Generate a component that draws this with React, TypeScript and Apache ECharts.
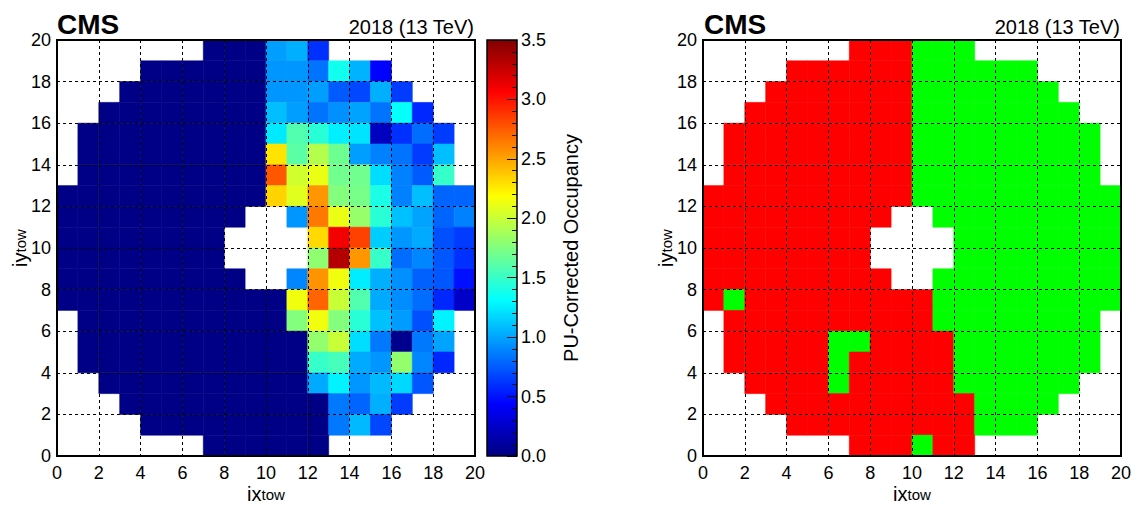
import React, { useEffect, useRef } from "react";
import * as echarts from "echarts";

const FONT = '"Liberation Sans", Arial, Helvetica, sans-serif';

const _ = null;
const D = 0.02; // nearly empty (navy) towers
const R = 0; // red
const G = 1; // green

// PU-corrected occupancy; rows from iy = 19 (top) down to iy = 0, columns ix = 0..19
const occupancyRows: (number | null)[][] = [
  [_, _, _, _, _, _, _, D, D, D, 0.98, 1.04, 0.6, _, _, _, _, _, _, _],
  [_, _, _, _, D, D, D, D, D, D, 0.95, 0.95, 0.83, 1.37, 1.05, 0.44, _, _, _, _],
  [_, _, _, D, D, D, D, D, D, D, 0.95, 0.95, 0.98, 0.75, 0.68, 1.04, 0.64, _, _, _],
  [_, _, D, D, D, D, D, D, D, D, 1.09, 0.98, 0.83, 0.93, 1.0, 0.83, 1.33, 0.57, _, _],
  [_, D, D, D, D, D, D, D, D, D, 1.24, 1.59, 1.45, 1.26, 1.22, 0.22, 0.6, 0.81, 0.64, _],
  [_, D, D, D, D, D, D, D, D, D, 2.28, 1.62, 1.93, 1.69, 0.98, 0.88, 0.83, 0.64, 1.09, _],
  [_, D, D, D, D, D, D, D, D, D, 2.77, 2.03, 2.12, 1.7, 1.7, 1.2, 0.88, 0.75, 1.5, _],
  [D, D, D, D, D, D, D, D, D, D, 2.34, 2.08, 2.55, 1.76, 1.72, 1.4, 0.88, 1.09, 0.78, 0.78],
  [D, D, D, D, D, D, D, D, D, _, _, 0.95, 2.65, 2.12, 1.83, 1.45, 1.1, 1.0, 0.78, 0.88],
  [D, D, D, D, D, D, D, D, _, _, _, _, 2.32, 3.1, 2.84, 1.14, 0.95, 1.02, 0.71, 0.64],
  [D, D, D, D, D, D, D, D, _, _, _, _, 1.8, 3.32, 2.55, 1.5, 0.81, 0.9, 0.73, 0.6],
  [D, D, D, D, D, D, D, D, D, _, _, 0.9, 2.56, 2.14, 1.25, 1.04, 0.93, 0.77, 0.73, 0.49],
  [D, D, D, D, D, D, D, D, D, D, D, 2.14, 2.72, 2.0, 1.59, 1.02, 0.92, 0.81, 0.57, 0.25],
  [_, D, D, D, D, D, D, D, D, D, D, 1.76, 2.14, 1.76, 1.45, 1.1, 0.97, 0.71, 1.27, _],
  [_, D, D, D, D, D, D, D, D, D, D, D, 1.82, 2.0, 1.2, 0.85, 0.05, 0.85, 1.0, _],
  [_, D, D, D, D, D, D, D, D, D, D, D, 1.5, 1.55, 1.02, 0.95, 1.82, 0.9, 0.57, _],
  [_, _, D, D, D, D, D, D, D, D, D, D, 1.02, 1.27, 0.95, 1.07, 1.18, 0.73, _, _],
  [_, _, _, D, D, D, D, D, D, D, D, D, D, 0.85, 0.78, 1.04, 0.64, _, _, _],
  [_, _, _, _, D, D, D, D, D, D, D, D, D, 0.85, 1.07, 0.68, _, _, _, _],
  [_, _, _, _, _, _, _, D, D, D, D, D, D, _, _, _, _, _, _, _],
];

// Partition map (0 = red, 1 = green); same row order
const partitionRows: (number | null)[][] = [
  [_, _, _, _, _, _, _, R, R, R, G, G, G, _, _, _, _, _, _, _],
  [_, _, _, _, R, R, R, R, R, R, G, G, G, G, G, G, _, _, _, _],
  [_, _, _, R, R, R, R, R, R, R, G, G, G, G, G, G, G, _, _, _],
  [_, _, R, R, R, R, R, R, R, R, G, G, G, G, G, G, G, G, _, _],
  [_, R, R, R, R, R, R, R, R, R, G, G, G, G, G, G, G, G, G, _],
  [_, R, R, R, R, R, R, R, R, R, G, G, G, G, G, G, G, G, G, _],
  [_, R, R, R, R, R, R, R, R, R, G, G, G, G, G, G, G, G, G, _],
  [R, R, R, R, R, R, R, R, R, R, G, G, G, G, G, G, G, G, G, G],
  [R, R, R, R, R, R, R, R, R, _, _, G, G, G, G, G, G, G, G, G],
  [R, R, R, R, R, R, R, R, _, _, _, _, G, G, G, G, G, G, G, G],
  [R, R, R, R, R, R, R, R, _, _, _, _, G, G, G, G, G, G, G, G],
  [R, R, R, R, R, R, R, R, R, _, _, G, G, G, G, G, G, G, G, G],
  [R, G, R, R, R, R, R, R, R, R, R, G, G, G, G, G, G, G, G, G],
  [_, R, R, R, R, R, R, R, R, R, R, G, G, G, G, G, G, G, G, _],
  [_, R, R, R, R, R, G, G, R, R, R, R, G, G, G, G, G, G, G, _],
  [_, R, R, R, R, R, G, R, R, R, R, R, G, G, G, G, G, G, G, _],
  [_, _, R, R, R, R, G, R, R, R, R, R, G, G, G, G, G, G, _, _],
  [_, _, _, R, R, R, R, R, R, R, R, R, R, G, G, G, G, _, _, _],
  [_, _, _, _, R, R, R, R, R, R, R, R, R, G, G, G, _, _, _, _],
  [_, _, _, _, _, _, _, R, R, R, G, R, R, _, _, _, _, _, _, _],
];

const zMin = 0;
const zMax = 3.5;
const zInterval = 0.5;

const jet = [
  "#000080",
  "#0000ff",
  "#0080ff",
  "#00ffff",
  "#80ff80",
  "#ffff00",
  "#ff8000",
  "#ff0000",
  "#800000",
];

function toCells(rows: (number | null)[][]) {
  const out: number[][] = [];
  rows.forEach((row, r) => {
    const iy = rows.length - 1 - r;
    row.forEach((v, ix) => {
      if (v !== null) out.push([ix, iy, v]);
    });
  });
  return out;
}

const renderCell = (_params: any, api: any) => {
  const x = api.value(0);
  const y = api.value(1);
  const p0 = api.coord([x, y + 1]);
  const p1 = api.coord([x + 1, y]);
  const c = api.visual("color");
  return {
    type: "rect",
    shape: { x: p0[0], y: p0[1], width: p1[0] - p0[0], height: p1[1] - p0[1] },
    style: { fill: c, stroke: c, lineWidth: 0.6 },
  };
};

const rich = {
  m: { fontSize: 20, fontFamily: FONT, color: "#000", lineHeight: 18, verticalAlign: "top" },
  s: { fontSize: 15, fontFamily: FONT, color: "#000", lineHeight: 15, padding: [8, 0, 0, 0], verticalAlign: "bottom" },
};

const gridLine = { show: true, lineStyle: { color: "#000", type: [3, 3], width: 1 } };
const tickLabel = { fontSize: 18, color: "#000", fontFamily: FONT };

function plotXAxis(gi: number) {
  return {
    type: "value",
    gridIndex: gi,
    min: 0,
    max: 20,
    interval: 2,
    z: 5,
    name: "{m|ix}{s|tow}",
    nameLocation: "middle",
    nameGap: 28,
    nameMoveOverlap: false,
    nameTextStyle: { rich },
    axisLine: { show: false },
    axisTick: { show: false },
    axisLabel: { ...tickLabel, margin: 8 },
    splitLine: gridLine,
  };
}

function plotYAxis(gi: number) {
  return {
    type: "value",
    gridIndex: gi,
    min: 0,
    max: 20,
    interval: 2,
    z: 5,
    name: "{m|iy}{s|tow}",
    nameLocation: "middle",
    nameGap: 29,
    nameMoveOverlap: false,
    nameTextStyle: { rich },
    axisLine: { show: false },
    axisTick: { show: false },
    axisLabel: { ...tickLabel, margin: 6 },
    splitLine: gridLine,
  };
}

function headerTexts(left: number, right: number) {
  return [
    {
      type: "text",
      x: left,
      y: 24.5,
      style: { text: "CMS", font: `bold 28px ${FONT}`, fill: "#000", align: "left", verticalAlign: "middle" },
    },
    {
      type: "text",
      x: right,
      y: 27,
      style: { text: "2018 (13 TeV)", font: `20px ${FONT}`, fill: "#000", align: "right", verticalAlign: "middle" },
    },
  ];
}

export default function App() {
  const ref = useRef<HTMLDivElement>(null);
  useEffect(() => {
    const chart = echarts.init(ref.current!, null, { renderer: "svg" });
    const gridBase = { top: 40, height: 416, show: true, borderColor: "#000", z: 6, containLabel: false, outerBoundsMode: "none" };
    const option: any = {
      animation: false,
      grid: [
        { ...gridBase, left: 57, width: 418, borderWidth: 2 },
        { ...gridBase, left: 487, width: 30, borderWidth: 1.5 },
        { ...gridBase, left: 703, width: 418, borderWidth: 2 },
      ],
      xAxis: [
        plotXAxis(0),
        { type: "category", gridIndex: 1, data: [""], show: false },
        plotXAxis(2),
      ],
      yAxis: [
        plotYAxis(0),
        {
          type: "value",
          gridIndex: 1,
          position: "right",
          min: zMin,
          max: zMax,
          interval: zInterval,
          z: 5,
          axisLine: { show: false },
          axisTick: { show: true, inside: true, length: 10, lineStyle: { color: "#111" } },
          minorTick: { show: true, splitNumber: 5, length: 5, lineStyle: { color: "#111" } },
          splitLine: { show: false },
          axisLabel: { ...tickLabel, margin: 4, formatter: (v: number) => v.toFixed(1) },
          name: "PU-Corrected Occupancy",
          nameLocation: "middle",
          nameGap: 44,
          nameTextStyle: { fontSize: 20, fontFamily: FONT, color: "#000" },
        },
        plotYAxis(2),
      ],
      visualMap: [
        { type: "continuous", show: false, seriesIndex: 0, dimension: 2, min: zMin, max: zMax, inRange: { color: jet } },
        {
          type: "piecewise",
          show: false,
          seriesIndex: 2,
          dimension: 2,
          pieces: [
            { value: 0, color: "#ff0000" },
            { value: 1, color: "#00ff00" },
          ],
        },
      ],
      series: [
        {
          type: "custom",
          xAxisIndex: 0,
          yAxisIndex: 0,
          data: toCells(occupancyRows),
          encode: { x: 0, y: 1 },
          renderItem: renderCell,
          silent: true,
        },
        {
          type: "bar",
          xAxisIndex: 1,
          yAxisIndex: 1,
          data: [zMax],
          barWidth: "100%",
          silent: true,
          itemStyle: {
            color: new echarts.graphic.LinearGradient(
              0,
              1,
              0,
              0,
              jet.map((c, i) => ({ offset: i / (jet.length - 1), color: c }))
            ),
          },
        },
        {
          type: "custom",
          xAxisIndex: 2,
          yAxisIndex: 2,
          data: toCells(partitionRows),
          encode: { x: 0, y: 1 },
          renderItem: renderCell,
          silent: true,
        },
      ],
      graphic: [...headerTexts(57, 474), ...headerTexts(704, 1120)],
    };
    chart.setOption(option);
    return () => chart.dispose();
  }, []);
  return (
    <div
      ref={ref}
      style={{ position: "fixed", left: 0, top: 0, width: 1138, height: 505, background: "#fff" }}
    />
  );
}
